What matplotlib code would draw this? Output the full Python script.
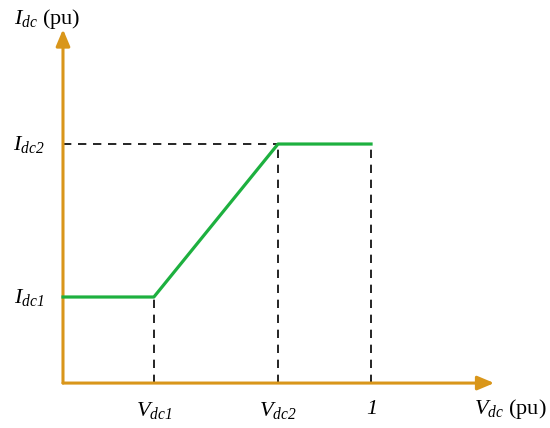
import matplotlib
matplotlib.use('Agg')
import matplotlib.pyplot as plt

plt.rcParams['mathtext.fontset'] = 'custom'
plt.rcParams['mathtext.rm'] = 'Liberation Serif:italic'
plt.rcParams['mathtext.it'] = 'Liberation Serif:italic'
plt.rcParams['font.family'] = 'Liberation Serif'

# characteristic (pu)
v_pts = [0.0, 0.295, 0.698, 1.0]
i_pts = [0.36, 0.36, 1.0, 1.0]
v_ticks = [0.295, 0.698, 1.0]
v_labels = [r'$V_{dc1}$', r'$V_{dc2}$', r'$1$']
i_ticks = [0.36, 1.0]
i_labels = [r'$I_{dc1}$', r'$I_{dc2}$']

orange = '#D9961A'
green = '#1DB03F'

fig = plt.figure(figsize=(5.5, 4.28), dpi=100)
ax = fig.add_axes([0, 0, 1, 1])
ax.set_xlim(-0.2045, 1.581)
ax.set_ylim(-0.188, 1.6025)
ax.axis('off')

# dashed guides
for v, i in zip(v_pts[1:], i_pts[1:]):
    ax.plot([v, v], [0, i], color='black', ls=(0, (5, 4)), lw=1.2, zorder=1)
ax.plot([0, 0.698], [1.0, 1.0], color='black', ls=(0, (5, 4)), lw=1.2, zorder=1)

ax.plot(v_pts, i_pts, color=green, lw=2.3, zorder=3)

# axes arrows
head = '-|>,head_length=1.0,head_width=0.42'
ax.annotate('', xy=(1.40, 0), xytext=(0, 0),
            arrowprops=dict(arrowstyle=head, color=orange, lw=2.2,
                            shrinkA=0, shrinkB=0), zorder=2)
ax.annotate('', xy=(0, 1.48), xytext=(0, 0),
            arrowprops=dict(arrowstyle=head, color=orange, lw=2.2,
                            shrinkA=0, shrinkB=0), zorder=2)

for v, lab in zip(v_ticks, v_labels):
    ax.text(v, -0.07, lab, ha='center', va='top', fontsize=16)
for i, lab in zip(i_ticks, i_labels):
    ax.text(-0.06, i, lab, ha='right', va='center', fontsize=16)

ax.text(-0.158, 1.525, r'$I_{dc}$ (pu)', ha='left', va='center', fontsize=16)
ax.text(1.335, -0.11, r'$V_{dc}$ (pu)', ha='left', va='center', fontsize=16)

fig.savefig('out.png', dpi=100)
